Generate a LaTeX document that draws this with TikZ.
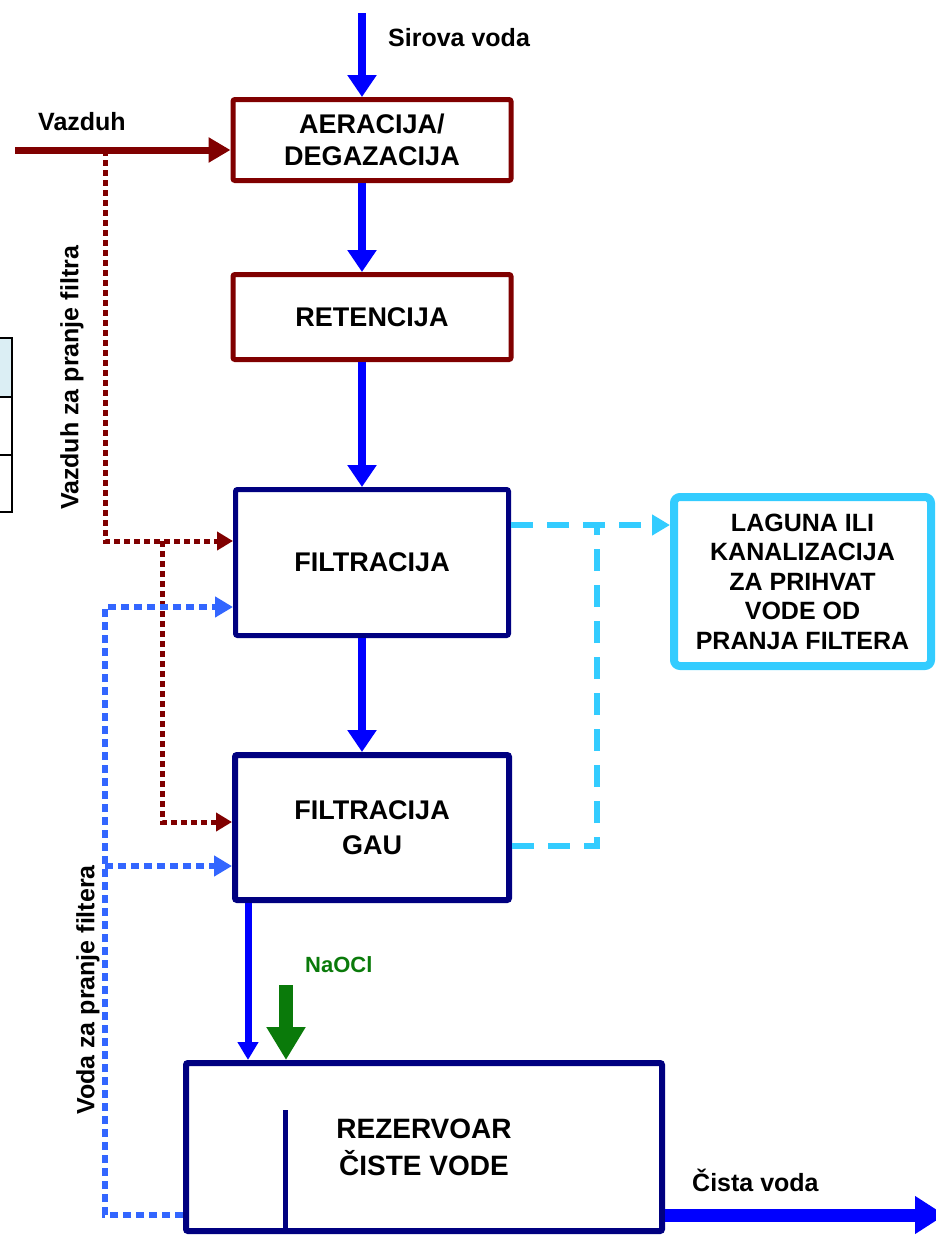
\documentclass[tikz,border=0pt]{standalone}
\usepackage{fontspec}
\setmainfont{Liberation Sans}
\usetikzlibrary{arrows.meta, positioning, calc}

\definecolor{airred}{HTML}{800000}
\definecolor{tanknavy}{HTML}{000080}
\definecolor{waterblue}{HTML}{0000FF}
\definecolor{washblue}{HTML}{3366FF}
\definecolor{draincyan}{HTML}{33CCFF}
\definecolor{dosegreen}{HTML}{0A7A0A}
\definecolor{cellblue}{HTML}{DBEEF4}

\begin{document}
\begin{tikzpicture}[x=1pt, y=-1pt]
        \tikzstyle{redbox} = [rectangle, rounded corners=2pt, draw=airred, line width=5pt, minimum width=278pt, text centered, align=center, font=\fontsize{27}{32}\selectfont\bfseries]
        \tikzstyle{navybox} = [rectangle, rounded corners=2pt, draw=tanknavy, line width=5pt, minimum width=273pt, text centered, align=center, font=\fontsize{27}{35}\selectfont\bfseries]
        \tikzstyle{lagbox} = [rectangle, rounded corners=6pt, draw=draincyan, line width=8pt, minimum width=257pt, minimum height=169pt, text centered, align=center, font=\fontsize{25}{29.5}\selectfont\bfseries]
        \tikzstyle{flow} = [draw=waterblue, line width=8pt, -{Triangle[width=28pt,length=22pt]}]
        \tikzstyle{thinflow} = [draw=waterblue, line width=7pt, -{Triangle[width=20pt,length=18pt]}]
        \tikzstyle{cleanflow} = [draw=waterblue, line width=13pt, -{Triangle[width=36pt,length=30pt]}]
        \tikzstyle{dosing} = [draw=dosegreen, line width=14pt, -{Triangle[width=37pt,length=33pt]}]
        \tikzstyle{airflow} = [draw=airred, line width=7pt, -{Triangle[width=24pt,length=22pt]}]
        \tikzstyle{airdot} = [draw=airred, line width=5pt, dash pattern=on 6pt off 4pt, -{Triangle[width=18pt,length=16pt]}]
        \tikzstyle{washdot} = [draw=washblue, line width=6pt, dash pattern=on 8pt off 5pt, -{Triangle[width=20pt,length=18pt]}]
        \tikzstyle{drain} = [draw=draincyan, line width=6pt, dash pattern=on 22pt off 14pt]
        \tikzstyle{tag} = [inner sep=0pt, font=\fontsize{25}{29}\selectfont\bfseries]

        \useasboundingbox (0,0) rectangle (935,1237);

        % cut-off table at the left edge
        \draw[line width=2pt, fill=cellblue] (-5,338) rectangle (12,397);
        \draw[line width=2pt] (-5,397) rectangle (12,455);
        \draw[line width=2pt] (-5,455) rectangle (12,512);

        \node (aer) [redbox, minimum height=81pt] at (372,140) {AERACIJA/\\DEGAZACIJA};
        \node (ret) [redbox, minimum height=85pt, below=89pt of aer] {RETENCIJA};
        \node (filt) [navybox, minimum height=146pt, below=125pt of ret] {FILTRACIJA};
        \node (gau) [navybox, line width=6pt, minimum width=274pt, minimum height=145pt, below=114pt of filt] {FILTRACIJA\\GAU};
        \node (rez) [navybox, line width=6pt, minimum width=476pt, minimum height=168pt, font=\fontsize{28}{37}\selectfont\bfseries] at (424,1147) {REZERVOAR\\ČISTE VODE};
        \node (lag) [lagbox] at (802.5,581.5) {LAGUNA ILI\\KANALIZACIJA\\ZA PRIHVAT\\VODE OD\\PRANJA FILTERA};

        \coordinate (wall) at (285,1110);
        \draw[draw=tanknavy, line width=5pt] (wall) -- (wall |- rez.south);

        \node (sirova) [tag, anchor=west] at (388,38) {Sirova voda};
        \node (vazduh) [tag, anchor=west] at (38,122) {Vazduh};
        \node (vzlbl) [tag, rotate=90] at (72,378) {Vazduh za pranje filtra};
        \node (vdlbl) [tag, rotate=90] at (88,990) {Voda za pranje filtera};
        \node (naocl) [tag, anchor=west, text=dosegreen, font=\fontsize{22}{26}\selectfont\bfseries] at (305,965) {NaOCl};
        \node (cista) [tag, anchor=west] at (692,1180) {Čista voda};

        \coordinate (col) at (362,13);
        \coordinate (gauout) at (248,0);
        \coordinate (dose) at (286,985);
        \coordinate (vzin) at (15,150);
        \coordinate (vzsplit) at (105,150);
        \coordinate (vzturn) at (105,541);
        \coordinate (vzbranch) at (162,541);
        \coordinate (vzgau) at (162,822);
        \coordinate (wbot) at (105,1215);
        \coordinate (wtop) at (105,607);
        \coordinate (wgau) at (105,866);
        \coordinate (dtop) at (597,525);
        \coordinate (dbot) at (597,846);
        \coordinate (cvout) at (945,1215);

        \draw[flow] (col) -- (col |- aer.north);
        \draw[flow] (col |- aer.south) -- (col |- ret.north);
        \draw[flow] (col |- ret.south) -- (col |- filt.north);
        \draw[flow] (col |- filt.south) -- (col |- gau.north);
        \draw[thinflow] (gauout |- gau.south) -- (gauout |- rez.north);
        \draw[dosing] (dose) -- (dose |- rez.north);
        \draw[cleanflow] (cvout -| rez.east) -- (cvout);

        \draw[airflow] (vzin) -- (vzin -| aer.west);
        \draw[airdot] (vzsplit) -- (vzturn) -- (vzturn -| filt.west);
        \draw[airdot] (vzbranch) -- (vzgau) -- (vzgau -| gau.west);

        \draw[washdot] (wbot -| rez.west) -- (wbot) -- (wtop) -- (wtop -| filt.west);
        \draw[washdot] (wgau) -- (wgau -| gau.west);

        \draw[drain, -{Triangle[width=20pt,length=18pt]}] (dtop -| filt.east) -- (dtop -| lag.west);
        \draw[drain] (dbot -| gau.east) -- (dbot) -- (dtop);
    \end{tikzpicture}
\end{document}
